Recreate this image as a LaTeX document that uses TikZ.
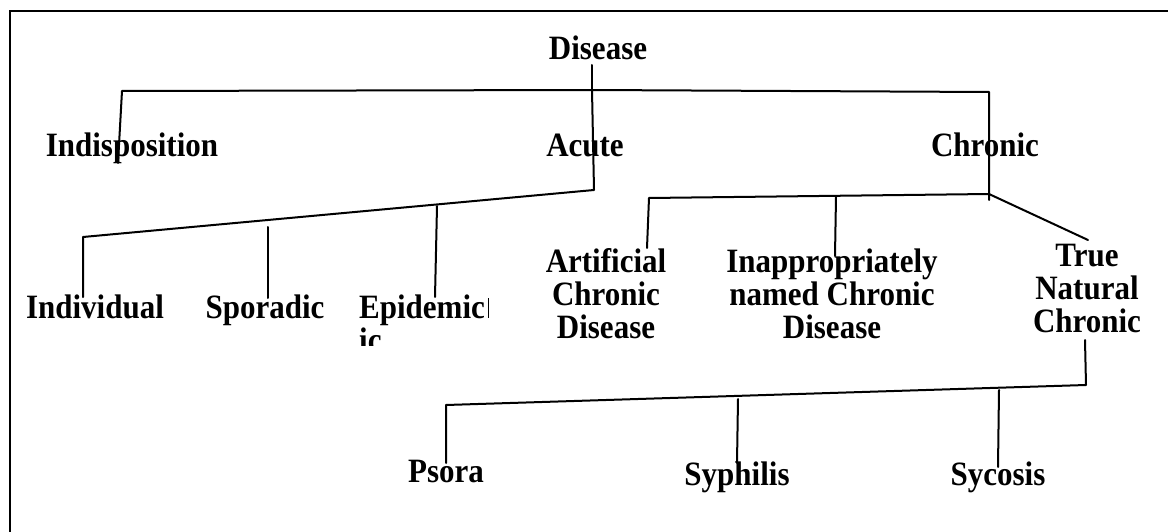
\documentclass[tikz,border=0pt]{standalone}
\usepackage{fontspec}
\setmainfont{Liberation Serif}
\begin{document}
\begin{tikzpicture}[x=1pt,y=-1pt,
  lbl/.style={inner sep=0pt,anchor=base,yscale=1.1,font=\fontsize{31}{30}\selectfont\bfseries,align=center},
  link/.style={line width=2pt,line cap=round,line join=round},
  frame/.style={line width=2.5pt}]
\useasboundingbox (0,0) rectangle (1168,532);
% outer frame (top and left edges)
\draw[frame] (10,532) -- (10,11) -- (1168,11);

% labels (multi-line labels are placed by their last baseline)
\node[lbl] (dis)   at (598,60)  {Disease};
\node[lbl] (ind)   at (132,157) {Indisposition};
\node[lbl] (acu)   at (585,157) {Acute};
\node[lbl] (chr)   at (985,157) {Chronic};
\node[lbl] (indiv) at (95,318)  {Individual};
\node[lbl] (spo)   at (265,318) {Sporadic};
\node[lbl,anchor=base west] (epi) at (359,318) {Epidemic};
\node[lbl] (art)   at (606,338) {Artificial\\Chronic\\Disease};
\node[lbl] (inap)  at (832,338) {Inappropriately\\named Chronic\\Disease};
\node[lbl] (tnc)   at (1087,332) {True\\Natural\\Chronic};
\node[lbl] (pso)   at (446,482) {Psora};
\node[lbl] (syp)   at (737,485) {Syphilis};
\node[lbl] (syc)   at (998,485) {Sycosis};
% overflowing second line of the Epidemic box
\begin{scope}
  \clip (355,320) rectangle (489,345);
  \node[lbl,anchor=base west] (epitail) at (359,351) {ic};
\end{scope}
\draw[line width=1pt] (488,298) -- (488,318);

% junction points
\coordinate (dtop) at (592,65);
\coordinate (dmid) at (592,90);
\coordinate (lend) at (122,91);
\coordinate (rend) at (989,92);
\coordinate (indb) at (118,163);
\coordinate (acub) at (594,190);
\coordinate (chrb) at (989,200);
\coordinate (chrj) at (989,194);
% Acute branch
\coordinate (abl)  at (83,237);
\coordinate (ivb)  at (83,297);
\coordinate (spt)  at (268,227);
\coordinate (spb)  at (268,298);
\coordinate (ept)  at (437,206);
\coordinate (epb)  at (435,297);
% Chronic branch
\coordinate (cbl)  at (649,198);
\coordinate (arb)  at (647,248);
\coordinate (inpt) at (836,197);
\coordinate (inpb) at (835,256);
\coordinate (tnct) at (1088,240);
% True Natural Chronic branch
\coordinate (tncs) at (1085,340);
\coordinate (tncj) at (1086,385);
\coordinate (psj)  at (446,405);
\coordinate (psb)  at (446,463);
\coordinate (syt)  at (738,399);
\coordinate (syb)  at (737,463);
\coordinate (sct)  at (999,390);
\coordinate (scb)  at (998,467);

% connectors
\draw[link] (dtop) -- (dmid);
\draw[link] (indb) -- (lend) -- (dmid) -- (rend) -- (chrb);
\draw[link] (dmid) -- (acub) -- (abl) -- (ivb);
\draw[link] (spt) -- (spb);
\draw[link] (ept) -- (epb);
\draw[link] (arb) -- (cbl) -- (chrj) -- (tnct);
\draw[link] (inpt) -- (inpb);
\draw[link] (tncs) -- (tncj) -- (psj) -- (psb);
\draw[link] (syt) -- (syb);
\draw[link] (sct) -- (scb);
\end{tikzpicture}
\end{document}
